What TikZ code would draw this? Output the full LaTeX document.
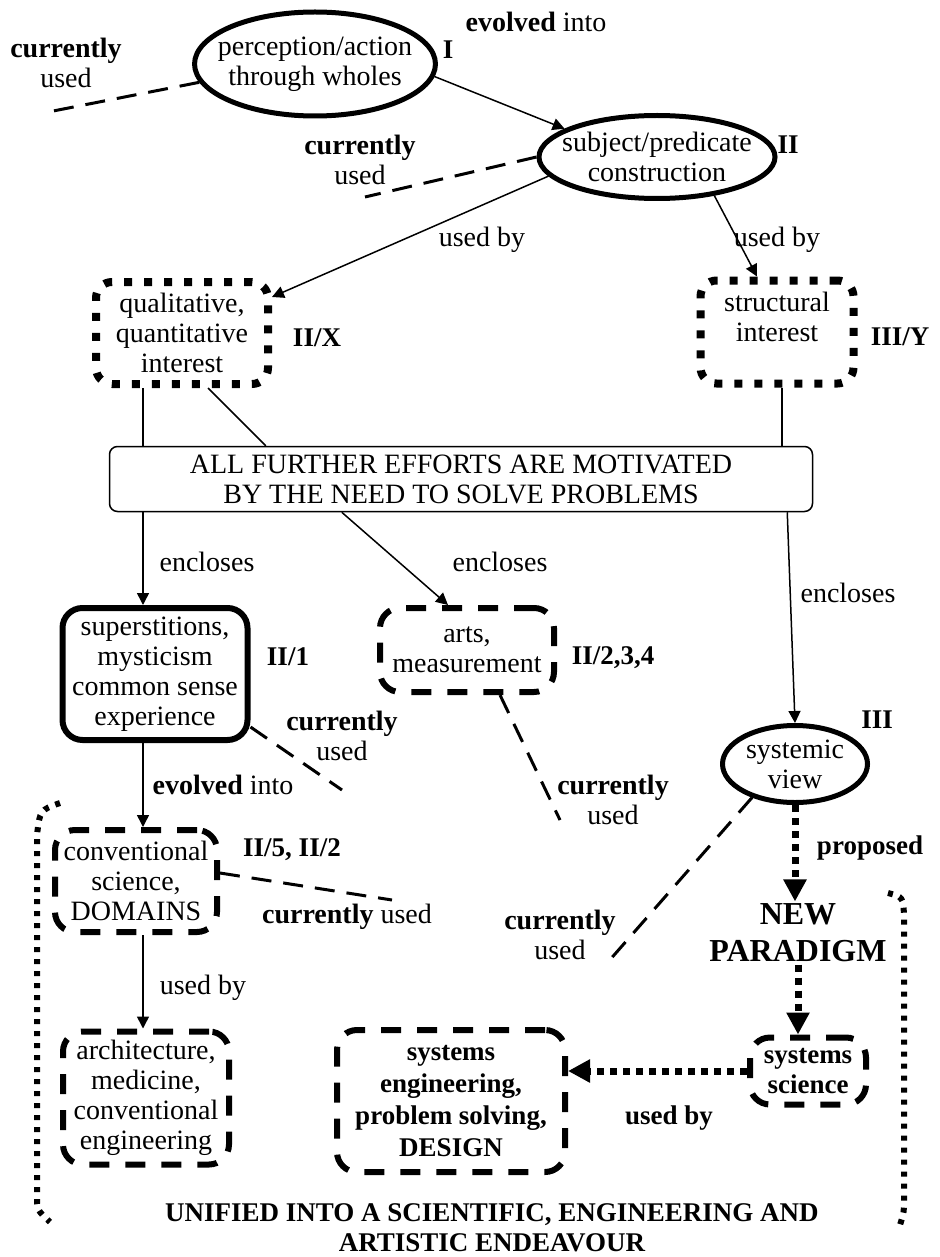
\documentclass[tikz,border=0pt]{standalone}
\usepackage{fontspec}
\setmainfont{Liberation Serif}
\usetikzlibrary{arrows.meta, positioning, calc, shapes.geometric}
\tikzset{
    base/.style={align=center, font=\fontsize{14}{15}\selectfont, inner sep=1pt},
    bbase/.style={base, font=\fontsize{13.5}{15}\selectfont\bfseries},
    oval/.style={base, ellipse, draw, line width=2.5pt, inner xsep=-6pt, inner ysep=-2pt},
    dotbox/.style={base, draw, rounded corners=8pt, line width=4pt, dash pattern=on 4pt off 6pt},
    dashbox/.style={base, draw, rounded corners=10pt, line width=3pt, dash pattern=on 10pt off 8pt},
    solidbox/.style={base, draw, rounded corners=10pt, line width=3pt},
    thinbox/.style={base, draw, rounded corners=4pt, line width=0.75pt},
    lbl/.style={base},
    blbl/.style={bbase},
    link/.style={line width=0.75pt},
    arr/.style={-{Triangle[length=6pt, width=6pt]}, line width=0.75pt},
    curr/.style={line width=1.5pt, dash pattern=on 10pt off 6pt},
    prop/.style={-{Triangle[length=11pt, width=11pt]}, line width=3.5pt, dash pattern=on 3.5pt off 3pt},
    frame/.style={line width=3pt, dash pattern=on 2.5pt off 3.5pt},
}

\begin{document}
\begin{tikzpicture}[x=0.5pt, y=-0.5pt]
        \useasboundingbox (0,0) rectangle (939,1257);

        % Mazgai
        \node[oval, minimum width=120pt, minimum height=52pt] (P) at (315,64) {perception/action\\through wholes};
        \node[oval, minimum width=118pt, minimum height=41.5pt] (S) at (657,157) {subject/predicate\\construction};
        \node[dotbox, minimum width=86pt, minimum height=51pt] (Q) at (182,333) {qualitative,\\quantitative\\interest};
        \node[dotbox, minimum width=76.5pt, minimum height=51.5pt] (T) at (777,332) {structural\\interest\\\mbox{}};
        \node[thinbox, minimum width=351.5pt, minimum height=32.5pt] (M) at (461,479) {ALL FURTHER EFFORTS ARE MOTIVATED\\BY THE NEED TO SOLVE PROBLEMS};
        \node[solidbox, minimum width=92.5pt, minimum height=66pt] (SU) at (155,674) {superstitions,\\mysticism\\common sense\\experience};
        \node[dashbox, minimum width=87pt, minimum height=42pt] (AR) at (467,650) {arts,\\measurement};
        \node[oval, minimum width=72.5pt, minimum height=38.5pt] (SV) at (795,764) {systemic\\view};
        \node[bbase, font=\fontsize{16}{18.5}\selectfont\bfseries] (NP) at (798,933) {NEW\\PARADIGM};
        \node[dashbox, minimum width=81pt, minimum height=51pt] (C) at (136,881) {conventional\\science,\\DOMAINS};
        \node[dashbox, minimum width=83pt, minimum height=66.5pt] (A) at (146,1098) {architecture,\\medicine,\\conventional\\engineering};
        \node[dashbox, font=\fontsize{13.5}{16}\selectfont\bfseries, minimum width=114pt, minimum height=71pt] (SE) at (451,1101) {systems\\engineering,\\problem solving,\\DESIGN};
        \node[dashbox, font=\fontsize{13.5}{15}\selectfont\bfseries, minimum width=58pt, minimum height=33.5pt] (SS) at (808,1071) {systems\\science};

        % Zymos
        \node[blbl] (lI)   at (448,50)  {I};
        \node[blbl] (lII)  at (788,145) {II};
        \node[blbl] (lIIX) at (317,338) {II/X};
        \node[blbl] (lIIIY) at (900,337) {III/Y};
        \node[blbl] (lII1) at (288,657) {II/1};
        \node[blbl] (lII234) at (613,658) {II/2,3,4};
        \node[blbl] (lIII) at (877,720) {III};
        \node[blbl] (lII52) at (292,850) {II/5, II/2};

        % Rysiai
        \coordinate (L) at (143,0);
        \draw[arr] (P.-6) -- (S.163);
        \node[lbl] (ev1) at (536,22) {\textbf{evolved} into};
        \draw[arr] (S.190) -- ($(Q.north east)+(0,19)$);
        \node[lbl] (ub1) at (482,240) {used by};
        \draw[arr] (S.-34) -- ($(T.north)+(-20,0)$);
        \node[lbl] (ub2) at (777,240) {used by};

        \draw[link] (Q.south -| L) -- (M.north -| L);
        \draw[link] ($(Q.south)+(26,0)$) -- ($(M.north west)+(157,0)$);
        \draw[link] ($(T.south)+(5,0)$) -- ($(M.north -| T.south)+(5,0)$);

        \draw[arr] (M.south -| L) -- (SU.north -| L);
        \node[lbl] (en1) at (207,562) {encloses};
        \draw[arr] ($(M.south west)+(233,0)$) -- ($(AR.north west)+(71,0)$);
        \node[lbl] (en2) at (500,562) {encloses};
        \draw[arr] ($(M.south east)+(-26,0)$) -- (SV.north);
        \node[lbl] (en3) at (848,593) {encloses};

        \draw[arr] (SU.south -| L) -- (C.north -| L);
        \node[lbl] (ev2) at (223,785) {\textbf{evolved} into};
        \draw[arr] (C.south -| L) -- (A.north -| L);
        \node[lbl] (ub3) at (203,988) {used by};

        \draw[prop] (SV.south) -- (SV.south |- NP.north);
        \node[blbl] (pr) at (870,848) {proposed};
        \draw[prop] (NP.south) -- (NP.south |- SS.north);
        \draw[prop] (SS.west) -- (SS.west -| SE.east);
        \node[blbl] (ub4) at (669,1118) {used by};

        % currently used
        \coordinate (d1) at (43,113);
        \draw[curr] (P.189) -- (d1);
        \node[lbl] (cu1) at (66,63) {\textbf{currently}\\used};
        \coordinate (d2) at (365,197);
        \draw[curr] (S.west) -- (d2);
        \node[lbl] (cu2) at (360,160) {\textbf{currently}\\used};
        \coordinate (d3) at (342,790);
        \draw[curr] ($(SU.south east)+(0,-16)$) -- (d3);
        \node[lbl] (cu3) at (342,736) {\textbf{currently}\\used};
        \coordinate (d4) at (560,820);
        \draw[curr] ($(AR.south)+(33,0)$) -- (d4);
        \node[lbl] (cu4) at (613,800) {\textbf{currently}\\used};
        \coordinate (d5) at (392,900);
        \draw[curr] ($(C.east)+(0,-8)$) -- (d5);
        \node[lbl] (cu5) at (347,917) {\textbf{currently} used};
        \coordinate (d6) at (608,962);
        \draw[curr] (SV.218) -- (d6);
        \node[lbl] (cu6) at (560,935) {\textbf{currently}\\used};

        % Apimtis
        \draw[frame] (60,803) .. controls (40,810) .. (37,835) -- (37,1195) .. controls (37,1210) .. (50,1222);
        \draw[frame] (888,893) .. controls (903,897) .. (904,915) -- (904,1200) .. controls (904,1212) .. (900,1225);
        \node[blbl] (un) at (492,1228) {UNIFIED INTO A SCIENTIFIC, ENGINEERING AND\\ARTISTIC ENDEAVOUR};
    \end{tikzpicture}
\end{document}
